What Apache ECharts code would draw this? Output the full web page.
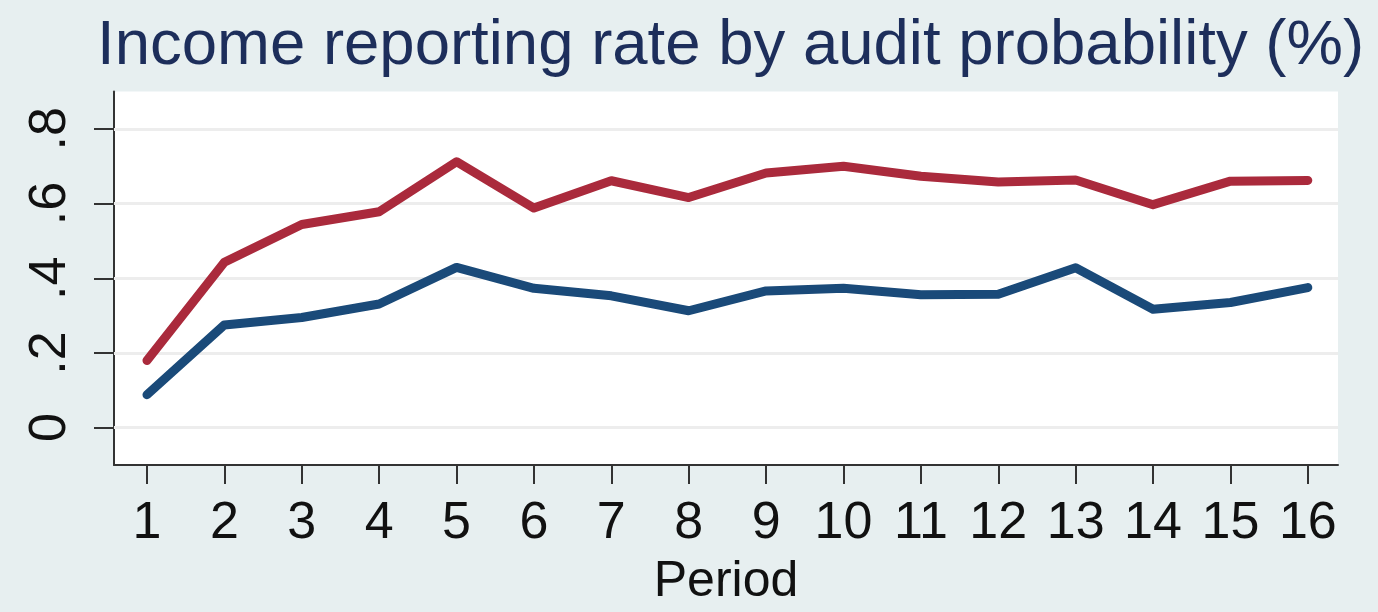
<!DOCTYPE html>
<html>
<head>
<meta charset="utf-8">
<script src="https://cdn.jsdelivr.net/npm/echarts@6/dist/echarts.min.js"></script>
<style>
html,body{margin:0;padding:0;background:#e7eff0;}
#c{width:1378px;height:612px;}
</style>
</head>
<body>
<div id="c"></div>
<script>
var periods = [1,2,3,4,5,6,7,8,9,10,11,12,13,14,15,16];
var highAudit = [0.18,0.443,0.544,0.578,0.712,0.588,0.661,0.616,0.682,0.70,0.673,0.658,0.663,0.597,0.66,0.662];
var lowAudit = [0.088,0.275,0.295,0.331,0.429,0.373,0.353,0.313,0.366,0.373,0.356,0.357,0.428,0.317,0.335,0.375];
var yTicks = [0,0.2,0.4,0.6,0.8];
var yTickLabels = ['0','.2','.4','.6','.8'];
var titleText = 'Income reporting rate by audit probability (%)';
var xName = 'Period';

function pairs(vals){ return periods.map(function(p,i){ return [p, vals[i]]; }); }

var chart = echarts.init(document.getElementById('c'), null, {renderer:'canvas'});
var fontFam = '"Liberation Sans", Arial, Helvetica, sans-serif';
chart.setOption({
  backgroundColor: '#e7eff0',
  animation: false,
  title: {
    text: titleText,
    left: 92, top: 9,
    textStyle: {color:'#1d2e5b', fontSize: 63.5, fontWeight:'normal', fontFamily: fontFam}
  },
  grid: {left:114, right:40, top:91.5, bottom:145.5, show:true, backgroundColor:'#ffffff', borderWidth:0},
  xAxis: {
    type:'value', min:0.574, max:16.39,
    name: xName, nameLocation:'middle', nameGap:92,
    nameTextStyle:{color:'#111', fontSize:50, fontFamily:fontFam},
    axisLine:{show:true, onZero:false, lineStyle:{color:'#333', width:2}},
    axisTick:{show:true, length:19, customValues: periods, lineStyle:{color:'#333', width:2}},
    axisLabel:{customValues: periods, margin:33, color:'#111', fontSize:52, fontFamily:fontFam},
    splitLine:{show:false}
  },
  yAxis: {
    type:'value', min:-0.1, max:0.9, interval:0.1,
    axisLine:{show:true, onZero:false, lineStyle:{color:'#333', width:2}},
    axisTick:{show:true, length:20, customValues: yTicks, lineStyle:{color:'#333', width:2}},
    axisLabel:{customValues: yTicks, rotate:90, margin:37, color:'#111', fontSize:52, fontFamily:fontFam,
      formatter:function(v){ var i = Math.round(v*5); return yTickLabels[i] !== undefined ? yTickLabels[i] : ''; }},
    splitLine:{show:false}
  },
  series: [
    {type:'line', data: [], silent:true, z:1,
     markLine:{silent:true, z:1, symbol:['none','none'], label:{show:false}, animation:false,
       lineStyle:{color:'#ededed', width:3, type:'solid'},
       data: yTicks.map(function(v){ return {yAxis: v}; })}},
    {type:'line', data: pairs(highAudit), showSymbol:false, symbol:'none', z:10,
     lineStyle:{color:'#aa2a3c', width:9, join:'round', cap:'round'}},
    {type:'line', data: pairs(lowAudit), showSymbol:false, symbol:'none', z:10,
     lineStyle:{color:'#1a4a79', width:9, join:'round', cap:'round'}}
  ]
});
</script>
</body>
</html>
